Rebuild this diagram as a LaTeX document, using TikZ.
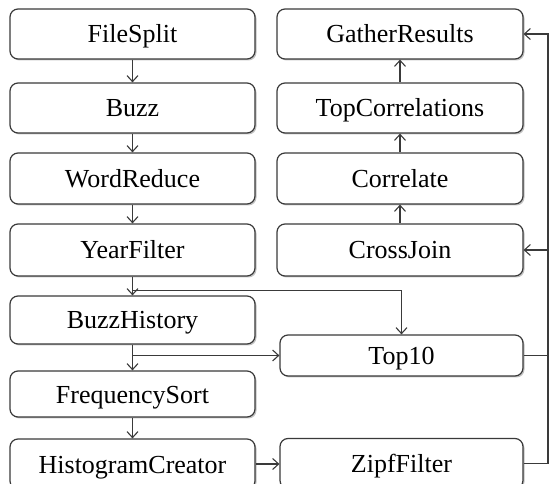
\documentclass[tikz,border=0pt]{standalone}
\usepackage{fontspec}
\setmainfont{Liberation Serif}
\usepackage{tikz}
\usetikzlibrary{arrows.meta,positioning,calc,shadows}
\definecolor{bline}{HTML}{3A3A3A}
\definecolor{bshadow}{HTML}{9A9A9A}
\tikzset{
  box/.style={draw=bline,fill=white,rounded corners=8pt,line width=1.2pt,align=center,font=\fontsize{26}{30}\selectfont,inner sep=0pt,
    text height=18pt,text depth=0pt,
    drop shadow={shadow xshift=1.5pt,shadow yshift=-1.5pt,fill=bshadow,opacity=0.6}},
  arr/.style={-{Straight Barb[length=6pt,width=11pt,line width=1.1pt]},line width=1.1pt,draw=bline},
  wire/.style={line width=1.1pt,draw=bline},
}
\begin{document}
\begin{tikzpicture}[x=1pt,y=-1pt]
  \useasboundingbox (0,0) rectangle (550,484);
  \foreach \n/\t/\y/\h in {
      FileSplit/FileSplit/34/50,
      Buzz/Buzz/108/50,
      WordReduce/WordReduce/178.5/51,
      YearFilter/YearFilter/250/52,
      BuzzHistory/BuzzHistory/320/48,
      FrequencySort/FrequencySort/394/46,
      HistogramCreator/HistogramCreator/464/50} {
    \node[box,minimum width=245pt,minimum height=\h pt] (\n) at (132.5,\y) {\t};
  }
  \foreach \n/\t/\y/\h in {
      GatherResults/GatherResults/34/50,
      TopCorrelations/TopCorrelations/108/50,
      Correlate/Correlate/178.5/51,
      CrossJoin/CrossJoin/250/52} {
    \node[box,minimum width=246pt,minimum height=\h pt] (\n) at (400,\y) {\t};
  }
  \node[box,minimum width=243pt,minimum height=41pt] (Top10) at (401.5,355.5) {Top10};
  \node[box,minimum width=243pt,minimum height=50pt] (ZipfFilter) at (401.5,463.5) {ZipfFilter};
  \coordinate (bus) at (548,0);
  \coordinate (splitA) at ([yshift=-14pt]YearFilter.south);
  \coordinate (splitB) at (BuzzHistory.south |- Top10.west);
  \draw[arr] (FileSplit) -- (Buzz);
  \draw[arr] (Buzz) -- (WordReduce);
  \draw[arr] (WordReduce) -- (YearFilter);
  \draw[arr] (YearFilter) -- (BuzzHistory);
  \draw[arr] (BuzzHistory) -- (FrequencySort);
  \draw[arr] (FrequencySort) -- (HistogramCreator);
  \draw[arr] (splitA) -| (Top10.north);
  \draw[arr] (splitB) -- (Top10.west);
  \draw[arr] (HistogramCreator.east) -- (ZipfFilter.west |- HistogramCreator.east);
  \draw[arr] (CrossJoin) -- (Correlate);
  \draw[arr] (Correlate) -- (TopCorrelations);
  \draw[arr] (TopCorrelations) -- (GatherResults);
  \draw[wire] (Top10.east) -- (Top10.east -| bus);
  \draw[arr] (ZipfFilter.east) -| (bus |- GatherResults.east) -- (GatherResults.east);
  \draw[arr] (bus |- CrossJoin.east) -- (CrossJoin.east);
\end{tikzpicture}
\end{document}
